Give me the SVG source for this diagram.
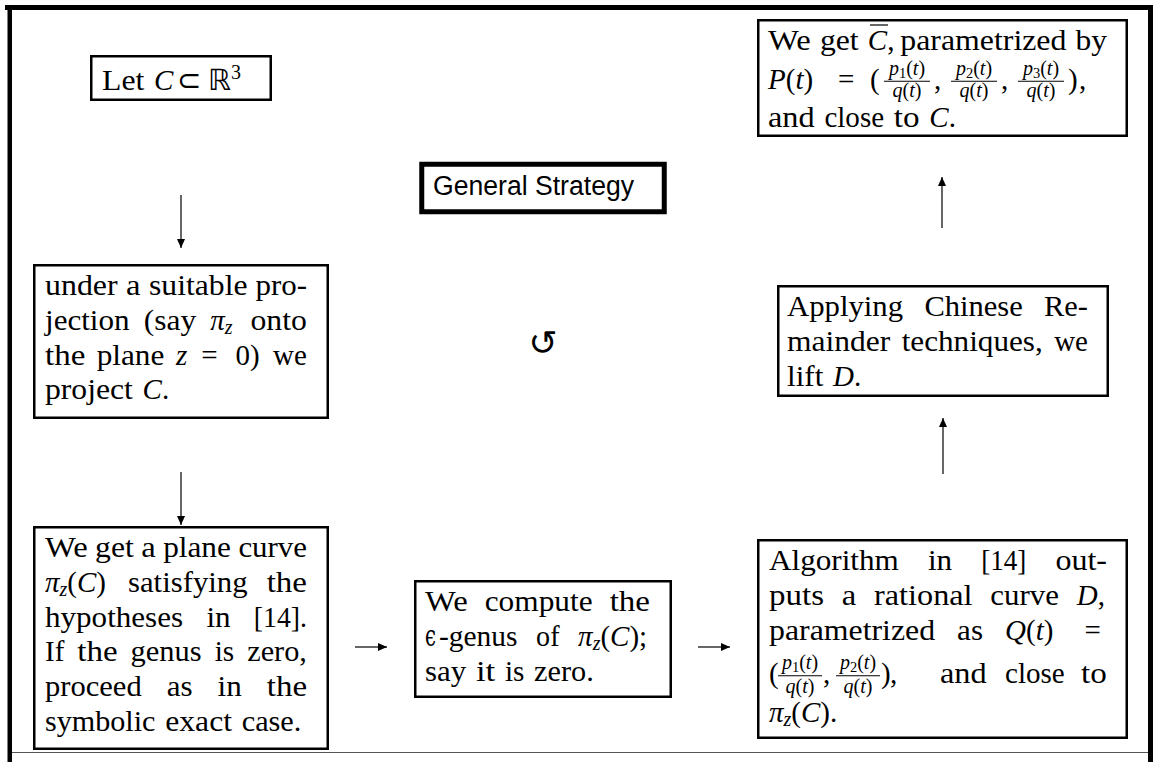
<svg xmlns="http://www.w3.org/2000/svg" width="1155" height="762" viewBox="0 0 1155 762">
<defs>
<marker id="ah" markerWidth="10" markerHeight="8" refX="9" refY="4" orient="auto" markerUnits="userSpaceOnUse"><path d="M0,0 L9,4 L0,8 z" fill="#000"/></marker>
</defs>
<style>
.t{font-family:"Liberation Serif","Times New Roman",serif;font-size:29px;fill:#000}
.i{font-style:italic}
.s{font-size:20px}
.ss{font-size:14.5px}
.box{fill:#fff;stroke:#000;stroke-width:2.5}
.conn{stroke:#000;stroke-width:1.2;fill:none}
.bar{stroke:#000;stroke-width:1.2}
.sans{font-family:"Liberation Sans",Arial,sans-serif;font-size:27px;fill:#000}
.sym{font-family:"DejaVu Sans",sans-serif}
.dv{font-family:"DejaVu Serif",serif}
</style>
<rect x="0" y="0" width="1155" height="762" fill="#fff"/>
<g id="frame">
<rect x="5" y="5" width="1148" height="5" fill="#000"/>
<rect x="7.5" y="10" width="4.5" height="752" fill="#000"/>
<rect x="1148" y="10" width="5" height="752" fill="#000"/>
<line x1="12" y1="752.5" x2="1148" y2="752.5" stroke="#555" stroke-width="1.2"/>
</g>
<g id="connectors">
<line class="conn" x1="181" y1="195" x2="181" y2="248" marker-end="url(#ah)"/>
<line class="conn" x1="181" y1="472" x2="181" y2="525" marker-end="url(#ah)"/>
<line class="conn" x1="355" y1="647" x2="387" y2="647" marker-end="url(#ah)"/>
<line class="conn" x1="698" y1="647" x2="730" y2="647" marker-end="url(#ah)"/>
<line class="conn" x1="943" y1="474" x2="943" y2="418" marker-end="url(#ah)"/>
<line class="conn" x1="942" y1="228" x2="942" y2="177" marker-end="url(#ah)"/>
</g>
<g id="n-let">
<rect class="box" x="91.25" y="56.25" width="179.5" height="43.5"/>
<text class="t" y="90"><tspan x="102" textLength="42.3" lengthAdjust="spacingAndGlyphs">Let</tspan> <tspan x="154" class="i">C</tspan> <tspan x="177" class="sym">⊂</tspan> <tspan x="208" class="sym">ℝ</tspan><tspan class="s" dy="-11">3</tspan></text>
</g>
<g id="n-title">
<rect x="421.75" y="164.25" width="242.5" height="47.5" fill="#fff" stroke="#000" stroke-width="5"/>
<text class="sans" x="433" y="195" textLength="201" lengthAdjust="spacingAndGlyphs">General Strategy</text>
</g>
<g id="n-cycle">
<text class="sym" x="543" y="355" text-anchor="middle" font-size="35">↺</text>
</g>
<g id="n-project">
<rect class="box" x="34.25" y="265.25" width="293.5" height="152.5"/>
<text class="t" y="295"><tspan x="45" textLength="72.6" lengthAdjust="spacingAndGlyphs">under</tspan> <tspan x="126" textLength="14.5" lengthAdjust="spacingAndGlyphs">a</tspan> <tspan x="149" textLength="98.5" lengthAdjust="spacingAndGlyphs">suitable</tspan> <tspan x="255.5" textLength="51.6" lengthAdjust="spacingAndGlyphs">pro-</tspan></text>
<text class="t" y="329.8"><tspan x="45" textLength="84.6" lengthAdjust="spacingAndGlyphs">jection</tspan> <tspan x="143.7" textLength="52.5" lengthAdjust="spacingAndGlyphs">(say</tspan> <tspan x="210.3" class="i">π</tspan><tspan class="i s" dy="4.4">z</tspan><tspan dy="-4.4"> </tspan><tspan x="250.5" textLength="56.4" lengthAdjust="spacingAndGlyphs">onto</tspan></text>
<text class="t" y="364.6"><tspan x="45" textLength="40.3" lengthAdjust="spacingAndGlyphs">the</tspan> <tspan x="96.7" textLength="67.7" lengthAdjust="spacingAndGlyphs">plane</tspan> <tspan x="176.1" class="i">z</tspan> <tspan x="201.3">=</tspan> <tspan x="235.6">0)</tspan> <tspan x="273.1" textLength="33.8" lengthAdjust="spacingAndGlyphs">we</tspan></text>
<text class="t" y="399.4"><tspan x="45" textLength="87.9" lengthAdjust="spacingAndGlyphs">project</tspan> <tspan x="142.6" class="i">C</tspan>.</text>
</g>
<g id="n-plane">
<rect class="box" x="34.25" y="527.25" width="293.5" height="221.5"/>
<text class="t" y="557"><tspan x="45" textLength="42.7" lengthAdjust="spacingAndGlyphs">We</tspan> <tspan x="95.1" textLength="38.7" lengthAdjust="spacingAndGlyphs">get</tspan> <tspan x="141.3" textLength="14.5" lengthAdjust="spacingAndGlyphs">a</tspan> <tspan x="163.2" textLength="67.7" lengthAdjust="spacingAndGlyphs">plane</tspan> <tspan x="238.4" textLength="68.6" lengthAdjust="spacingAndGlyphs">curve</tspan></text>
<text class="t" y="591.8"><tspan x="45" class="i">π</tspan><tspan class="i s" dy="4.4">z</tspan><tspan dy="-4.4">(</tspan><tspan class="i">C</tspan>) <tspan x="128" textLength="119.6" lengthAdjust="spacingAndGlyphs">satisfying</tspan> <tspan x="266.7" textLength="40.3" lengthAdjust="spacingAndGlyphs">the</tspan></text>
<text class="t" y="626.6"><tspan x="45" textLength="138.1" lengthAdjust="spacingAndGlyphs">hypotheses</tspan> <tspan x="206.4" textLength="24.2" lengthAdjust="spacingAndGlyphs">in</tspan> <tspan x="253.8" textLength="53.2" lengthAdjust="spacingAndGlyphs">[14].</tspan></text>
<text class="t" y="661.4"><tspan x="45" textLength="19.3" lengthAdjust="spacingAndGlyphs">If</tspan> <tspan x="77.3" textLength="40.3" lengthAdjust="spacingAndGlyphs">the</tspan> <tspan x="130.6" textLength="71.1" lengthAdjust="spacingAndGlyphs">genus</tspan> <tspan x="214.7" textLength="19.5" lengthAdjust="spacingAndGlyphs">is</tspan> <tspan x="247.2" textLength="59.7" lengthAdjust="spacingAndGlyphs">zero,</tspan></text>
<text class="t" y="696.2"><tspan x="45" textLength="96.7" lengthAdjust="spacingAndGlyphs">proceed</tspan> <tspan x="166.7" textLength="25.9" lengthAdjust="spacingAndGlyphs">as</tspan> <tspan x="217.6" textLength="24.2" lengthAdjust="spacingAndGlyphs">in</tspan> <tspan x="266.8" textLength="40.3" lengthAdjust="spacingAndGlyphs">the</tspan></text>
<text class="t" y="731"><tspan x="45" textLength="110.5" lengthAdjust="spacingAndGlyphs">symbolic</tspan> <tspan x="165.2" textLength="66.8" lengthAdjust="spacingAndGlyphs">exact</tspan> <tspan x="241.7" textLength="59.7" lengthAdjust="spacingAndGlyphs">case.</tspan></text>
</g>
<g id="n-genus">
<rect class="box" x="415.25" y="581.25" width="255.5" height="115.5"/>
<text class="t" y="611"><tspan x="425" textLength="42.7" lengthAdjust="spacingAndGlyphs">We</tspan> <tspan x="484.7" textLength="107.9" lengthAdjust="spacingAndGlyphs">compute</tspan> <tspan x="609.7" textLength="40.3" lengthAdjust="spacingAndGlyphs">the</tspan></text>
<text class="t" y="645.8"><tspan x="425" class="dv" textLength="11" lengthAdjust="spacingAndGlyphs">ϵ</tspan><tspan x="439" textLength="78.5" lengthAdjust="spacingAndGlyphs">-genus</tspan> <tspan x="536.1" textLength="23.4" lengthAdjust="spacingAndGlyphs">of</tspan> <tspan x="578.1" class="i">π</tspan><tspan class="i s" dy="4.4">z</tspan><tspan dy="-4.4">(</tspan><tspan class="i">C</tspan>);</text>
<text class="t" y="680.6"><tspan x="425" textLength="41.2" lengthAdjust="spacingAndGlyphs">say</tspan> <tspan x="475.9" textLength="19.3" lengthAdjust="spacingAndGlyphs">it</tspan> <tspan x="504.9" textLength="19.5" lengthAdjust="spacingAndGlyphs">is</tspan> <tspan x="534.1" textLength="59.7" lengthAdjust="spacingAndGlyphs">zero.</tspan></text>
</g>
<g id="n-algorithm">
<rect class="box" x="758.25" y="540.25" width="368.5" height="197.5"/>
<text class="t" y="570"><tspan x="769" textLength="129.8" lengthAdjust="spacingAndGlyphs">Algorithm</tspan> <tspan x="927.9" textLength="24.2" lengthAdjust="spacingAndGlyphs">in</tspan> <tspan x="981.2" textLength="45.1" lengthAdjust="spacingAndGlyphs">[14]</tspan> <tspan x="1055.4" textLength="51.6" lengthAdjust="spacingAndGlyphs">out-</tspan></text>
<text class="t" y="605"><tspan x="769" textLength="55" lengthAdjust="spacingAndGlyphs">puts</tspan> <tspan x="841.8" textLength="14.5" lengthAdjust="spacingAndGlyphs">a</tspan> <tspan x="874.1" textLength="98.4" lengthAdjust="spacingAndGlyphs">rational</tspan> <tspan x="990.3" textLength="68.6" lengthAdjust="spacingAndGlyphs">curve</tspan> <tspan x="1076.7" class="i">D</tspan>,</text>
<text class="t" y="640"><tspan x="769" textLength="166.1" lengthAdjust="spacingAndGlyphs">parametrized</tspan> <tspan x="957.1" textLength="25.9" lengthAdjust="spacingAndGlyphs">as</tspan> <tspan x="1005" class="i">Q</tspan>(<tspan class="i">t</tspan>) <tspan x="1084.5">=</tspan></text>
<text class="t" y="683"><tspan x="769">(</tspan><tspan x="823">,</tspan><tspan x="881">)</tspan><tspan x="890">,</tspan> <tspan x="940" textLength="46.7" lengthAdjust="spacingAndGlyphs">and</tspan> <tspan x="1005" textLength="59.7" lengthAdjust="spacingAndGlyphs">close</tspan> <tspan x="1081" textLength="25.8" lengthAdjust="spacingAndGlyphs">to</tspan></text>
<text class="t s" x="800" y="669" text-anchor="middle"><tspan class="i">p</tspan><tspan class="ss" dy="3">1</tspan><tspan dy="-3">(</tspan><tspan class="i">t</tspan>)</text>
<line class="bar" x1="778" y1="675.75" x2="822" y2="675.75"/>
<text class="t s" x="800" y="693" text-anchor="middle"><tspan class="i">q</tspan>(<tspan class="i">t</tspan>)</text>
<text class="t s" x="858" y="669" text-anchor="middle"><tspan class="i">p</tspan><tspan class="ss" dy="3">2</tspan><tspan dy="-3">(</tspan><tspan class="i">t</tspan>)</text>
<line class="bar" x1="836" y1="675.75" x2="880" y2="675.75"/>
<text class="t s" x="858" y="693" text-anchor="middle"><tspan class="i">q</tspan>(<tspan class="i">t</tspan>)</text>
<text class="t" y="722"><tspan x="769" class="i">π</tspan><tspan class="i s" dy="4.4">z</tspan><tspan dy="-4.4">(</tspan><tspan class="i">C</tspan>).</text>
</g>
<g id="n-lift">
<rect class="box" x="778.25" y="286.25" width="329.5" height="109.5"/>
<text class="t" y="316"><tspan x="787" textLength="116.1" lengthAdjust="spacingAndGlyphs">Applying</tspan> <tspan x="924.4" textLength="98.4" lengthAdjust="spacingAndGlyphs">Chinese</tspan> <tspan x="1044.1" textLength="43.9" lengthAdjust="spacingAndGlyphs">Re-</tspan></text>
<text class="t" y="350.8"><tspan x="787" textLength="103.2" lengthAdjust="spacingAndGlyphs">mainder</tspan> <tspan x="901.7" textLength="141.1" lengthAdjust="spacingAndGlyphs">techniques,</tspan> <tspan x="1054.2" textLength="33.8" lengthAdjust="spacingAndGlyphs">we</tspan></text>
<text class="t" y="385.6"><tspan x="787" textLength="36.3" lengthAdjust="spacingAndGlyphs">lift</tspan> <tspan x="833" class="i">D</tspan>.</text>
</g>
<g id="n-result">
<rect class="box" x="758.25" y="20.25" width="368.5" height="115.5"/>
<text class="t" y="50"><tspan x="768" textLength="42.7" lengthAdjust="spacingAndGlyphs">We</tspan> <tspan x="819.9" textLength="38.7" lengthAdjust="spacingAndGlyphs">get</tspan> <tspan x="867.8" class="i">C</tspan>, <tspan x="900.3" textLength="166.1" lengthAdjust="spacingAndGlyphs">parametrized</tspan> <tspan x="1075.6" textLength="31.4" lengthAdjust="spacingAndGlyphs">by</tspan></text>
<line class="bar" x1="870" y1="25" x2="888" y2="25"/>
<text class="t" y="88.5"><tspan x="768" class="i">P</tspan>(<tspan class="i">t</tspan>) <tspan x="838">=</tspan> <tspan x="870">(</tspan><tspan x="934">,</tspan><tspan x="1001">,</tspan><tspan x="1068">)</tspan><tspan x="1079">,</tspan></text>
<text class="t s" x="907" y="74.5" text-anchor="middle"><tspan class="i">p</tspan><tspan class="ss" dy="3">1</tspan><tspan dy="-3">(</tspan><tspan class="i">t</tspan>)</text>
<line class="bar" x1="884" y1="81.25" x2="930" y2="81.25"/>
<text class="t s" x="907" y="97" text-anchor="middle"><tspan class="i">q</tspan>(<tspan class="i">t</tspan>)</text>
<text class="t s" x="974" y="74.5" text-anchor="middle"><tspan class="i">p</tspan><tspan class="ss" dy="3">2</tspan><tspan dy="-3">(</tspan><tspan class="i">t</tspan>)</text>
<line class="bar" x1="951" y1="81.25" x2="997" y2="81.25"/>
<text class="t s" x="974" y="97" text-anchor="middle"><tspan class="i">q</tspan>(<tspan class="i">t</tspan>)</text>
<text class="t s" x="1041" y="74.5" text-anchor="middle"><tspan class="i">p</tspan><tspan class="ss" dy="3">3</tspan><tspan dy="-3">(</tspan><tspan class="i">t</tspan>)</text>
<line class="bar" x1="1018" y1="81.25" x2="1064" y2="81.25"/>
<text class="t s" x="1041" y="97" text-anchor="middle"><tspan class="i">q</tspan>(<tspan class="i">t</tspan>)</text>
<text class="t" y="127"><tspan x="768" textLength="46.7" lengthAdjust="spacingAndGlyphs">and</tspan> <tspan x="824.4" textLength="59.7" lengthAdjust="spacingAndGlyphs">close</tspan> <tspan x="893.8" textLength="25.8" lengthAdjust="spacingAndGlyphs">to</tspan> <tspan x="929.3" class="i">C</tspan>.</text>
</g>
</svg>
